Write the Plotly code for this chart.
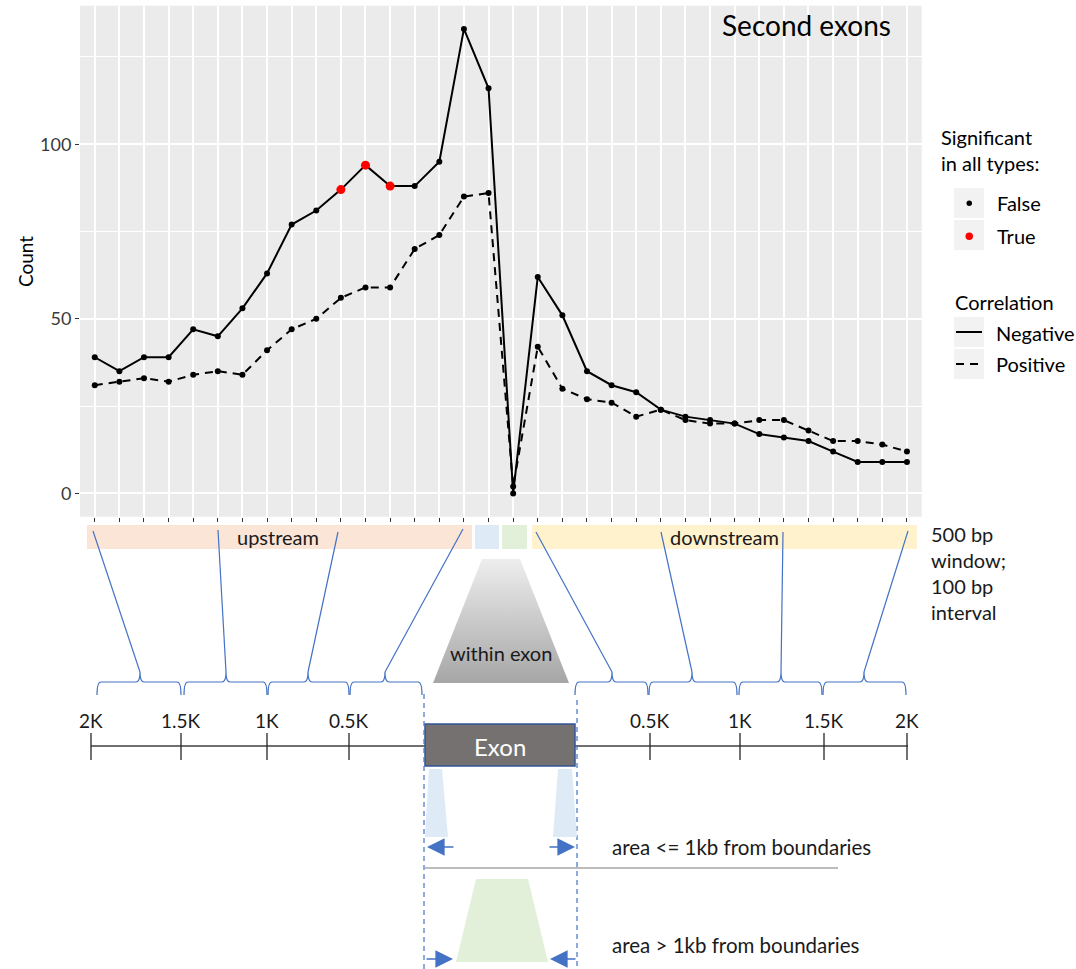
import plotly.graph_objects as go

# ---------------- data ----------------
upstream_windows = ["up%d" % i for i in range(1, 17)]
exon_windows = ["exon_near", "exon_far"]
downstream_windows = ["down%d" % i for i in range(1, 17)]
windows = upstream_windows + exon_windows + downstream_windows

negative = [39, 35, 39, 39, 47, 45, 53, 63, 77, 81, 87, 94, 88, 88, 95, 133, 116,
            0,
            62, 51, 35, 31, 29, 24, 22, 21, 20, 17, 16, 15, 12, 9, 9, 9]
positive = [31, 32, 33, 32, 34, 35, 34, 41, 47, 50, 56, 59, 59, 70, 74, 85, 86,
            2,
            42, 30, 27, 26, 22, 24, 21, 20, 20, 21, 21, 18, 15, 15, 14, 12]
significant_negative = ["up11", "up12", "up13"]

y_ticks = [0, 50, 100]
y_minor = [25, 75, 125]

upstream_scale = ["2K", "1.5K", "1K", "0.5K"]
downstream_scale = ["0.5K", "1K", "1.5K", "2K"]

# ---------------- figure ----------------
FONT = "Lato"
TXT = "#1a1a1a"
BLUE = "#4472C4"
W, H = 1076, 969

fig = go.Figure()

fig.add_trace(go.Scatter(x=windows, y=negative, mode="lines",
                         line=dict(color="black", width=2), showlegend=False,
                         xaxis="x", yaxis="y"))
fig.add_trace(go.Scatter(x=windows, y=positive, mode="lines",
                         line=dict(color="black", width=2, dash="8px,6px"),
                         showlegend=False, xaxis="x", yaxis="y"))

bx = [w for w in windows] + [w for w in windows if w not in significant_negative]
by = positive + [v for w, v in zip(windows, negative) if w not in significant_negative]
fig.add_trace(go.Scatter(x=bx, y=by, mode="markers",
                         marker=dict(color="black", size=6), showlegend=False,
                         xaxis="x", yaxis="y"))
rx = [w for w in windows if w in significant_negative]
ry = [v for w, v in zip(windows, negative) if w in significant_negative]
fig.add_trace(go.Scatter(x=rx, y=ry, mode="markers",
                         marker=dict(color="red", size=9), showlegend=False,
                         xaxis="x", yaxis="y"))

# gradient trapezoid "within exon" on the diagram axes
fig.add_trace(go.Scatter(x=[482, 520, 569, 433, 482], y=[559, 559, 683, 683, 559],
                         mode="lines", line=dict(width=0), fill="toself",
                         fillgradient=dict(type="vertical",
                                           colorscale=[[0, "#EEEEEE"], [1, "#A6A6A6"]],
                                           start=559, stop=683),
                         hoverinfo="skip", showlegend=False, xaxis="x2", yaxis="y2"))

shapes = []
ann = []

# panel background
shapes.append(dict(type="rect", xref="x domain", yref="y domain", x0=0, x1=1, y0=0, y1=1,
                   fillcolor="#EBEBEB", line=dict(width=0), layer="below"))


def S(**kw):
    d = dict(xref="x2", yref="y2")
    d.update(kw)
    shapes.append(d)


def A(text, x, y, size=20, color=TXT, xanchor="center", yanchor="middle", **kw):
    d = dict(text=text, x=x, y=y, xref="x2", yref="y2", showarrow=False,
             font=dict(family=FONT, size=size, color=color),
             xanchor=xanchor, yanchor=yanchor)
    d.update(kw)
    ann.append(d)


# region bands
S(type="rect", x0=87, x1=472, y0=525, y1=549, fillcolor="#FBE5D6", line=dict(width=0))
S(type="rect", x0=475, x1=499, y0=525, y1=549, fillcolor="#DEEBF7", line=dict(width=0))
S(type="rect", x0=502, x1=527, y0=525, y1=549, fillcolor="#E2F0D9", line=dict(width=0))
S(type="rect", x0=532, x1=917, y0=525, y1=549, fillcolor="#FFF2CC", line=dict(width=0))
A("upstream", 278, 537)
A("downstream", 724, 537)
A("500 bp<br>window;<br>100 bp<br>interval", 929, 573, xanchor="left", align="left")


def brace(x0, x1, pk, yt=682, yb=695, ys=672, r=4):
    return (f"M{x0},{yb} Q{x0},{yt} {x0 + r},{yt} L{pk - r},{yt} Q{pk},{yt} {pk},{ys} "
            f"Q{pk},{yt} {pk + r},{yt} L{x1 - r},{yt} Q{x1},{yt} {x1},{yb}")


braces = [(97, 181, 140, 93, 531), (184, 267, 226, 218, 530), (268, 349, 308, 338, 532),
          (350, 422, 385, 463, 529),
          (575, 648, 612, 536, 532), (649, 737, 692, 661, 532), (739, 822, 781, 783, 532),
          (823, 906, 864, 908, 531)]
for x0, x1, pk, tx, ty in braces:
    S(type="path", path=brace(x0, x1, pk), line=dict(color=BLUE, width=1.2))
    S(type="line", x0=pk, y0=672, x1=tx, y1=ty, line=dict(color=BLUE, width=1.2))

A("within exon", 501, 653)

# distance scale
S(type="line", x0=91, x1=425, y0=746, y1=746, line=dict(color="#404040", width=1.3))
S(type="line", x0=575, x1=908, y0=746, y1=746, line=dict(color="#404040", width=1.3))
for xv, lab in zip([91, 181, 267, 349], upstream_scale):
    S(type="line", x0=xv, x1=xv, y0=733, y1=760, line=dict(color="#262626", width=1.3))
    A(lab, xv, 720, size=19)
for xv, lab in zip([650, 740, 824, 907], downstream_scale):
    S(type="line", x0=xv, x1=xv, y0=733, y1=760, line=dict(color="#262626", width=1.3))
    A(lab, xv, 720, size=19)

S(type="rect", x0=425, x1=575, y0=724, y1=766, fillcolor="#767171",
  line=dict(color="#2F5597", width=1.5))
A("Exon", 500, 746, size=24, color="white")

# dashed boundaries
S(type="line", x0=424, x1=424, y0=694, y1=969, line=dict(color=BLUE, width=1.2, dash="5px,4px"))
S(type="line", x0=577, x1=577, y0=700, y1=969, line=dict(color=BLUE, width=1.2, dash="5px,4px"))

# near-boundary trapezoids
S(type="path", path="M429,769 L442,769 L448,837 L425,837 Z", fillcolor="#DEEBF7", line=dict(width=0))
S(type="path", path="M558,769 L572,769 L577,837 L553,837 Z", fillcolor="#DEEBF7", line=dict(width=0))
# far trapezoid
S(type="path", path="M476,879 L528,879 L548,962 L456,962 Z", fillcolor="#E2F0D9", line=dict(width=0))
# separator
S(type="line", x0=425, x1=838, y0=868, y1=868, line=dict(color="#A6A6A6", width=1.5))

A("area &lt;= 1kb from boundaries", 610, 847, size=20.5, xanchor="left")
A("area &gt; 1kb from boundaries", 610, 945, size=20.5, xanchor="left")


def arrow(hx, tx, y):
    ann.append(dict(x=hx, y=y, ax=tx, ay=y, xref="x2", yref="y2", axref="x2", ayref="y2",
                    showarrow=True, arrowhead=2, arrowsize=2.2, arrowwidth=1.6,
                    arrowcolor=BLUE, text=""))


arrow(427, 455, 847)
arrow(575, 548, 847)
arrow(453, 425, 959)
arrow(550, 577, 959)

# titles / axis label
A("Second exons", 806, 25, size=28, color="black")
A("Count", 25, 262, size=19, color="black", textangle=-90)

# legend
A("Significant<br>in all types:", 939, 150, xanchor="left", align="left", color="black")
S(type="rect", x0=954, x1=984, y0=188, y1=218, fillcolor="#F2F2F2", line=dict(width=0))
S(type="rect", x0=954, x1=984, y0=220, y1=250, fillcolor="#F2F2F2", line=dict(width=0))
S(type="circle", x0=966.5, x1=972, y0=200.5, y1=206, fillcolor="black", line=dict(width=0))
S(type="circle", x0=965.5, x1=973, y0=232.5, y1=240, fillcolor="red", line=dict(width=0))
A("False", 995, 203, xanchor="left", color="black")
A("True", 995, 236, xanchor="left", color="black")

A("Correlation", 953, 302, xanchor="left", color="black")
S(type="rect", x0=954, x1=984, y0=317, y1=347, fillcolor="#F2F2F2", line=dict(width=0))
S(type="rect", x0=954, x1=984, y0=349, y1=379, fillcolor="#F2F2F2", line=dict(width=0))
S(type="line", x0=956, x1=982, y0=332, y1=332, line=dict(color="black", width=2))
S(type="line", x0=956, x1=982, y0=364, y1=364, line=dict(color="black", width=2, dash="8px,6px"))
A("Negative", 994, 333, xanchor="left", color="black")
A("Positive", 994, 364, xanchor="left", color="black")

fig.update_layout(
    width=W, height=H, margin=dict(l=0, r=0, t=0, b=0),
    paper_bgcolor="white", plot_bgcolor="rgba(0,0,0,0)",
    showlegend=False,
    shapes=shapes, annotations=ann,
    xaxis=dict(domain=[80 / W, 921.7 / W], type="category",
               categoryorder="array", categoryarray=windows,
               range=[-0.6, len(windows) - 0.4],
               tickmode="array", tickvals=windows, showticklabels=False,
               ticks="outside", ticklen=4, tickwidth=1.2, tickcolor="#333333",
               showgrid=True, gridcolor="white", gridwidth=1.6,
               zeroline=False, showline=False, anchor="y", fixedrange=True),
    yaxis=dict(domain=[(H - 516.7) / H, (H - 5.7) / H],
               range=[-6.65, 139.65], tickmode="array", tickvals=y_ticks,
               ticks="outside", ticklen=4, tickwidth=1.2, tickcolor="#333333",
               tickfont=dict(family=FONT, size=18, color="#3a3a3a"),
               showgrid=True, gridcolor="white", gridwidth=1.6,
               minor=dict(tickmode="array", tickvals=y_minor, showgrid=True,
                          gridcolor="white", gridwidth=0.8, ticks=""),
               zeroline=False, showline=False, anchor="x", fixedrange=True),
    xaxis2=dict(domain=[0, 1], range=[0, W], visible=False, anchor="y2", fixedrange=True),
    yaxis2=dict(domain=[0, 1], range=[H, 0], visible=False, anchor="x2", fixedrange=True),
)

fig.write_html("out.html", config={"displayModeBar": False},
               post_script="document.body.style.margin='0';")
